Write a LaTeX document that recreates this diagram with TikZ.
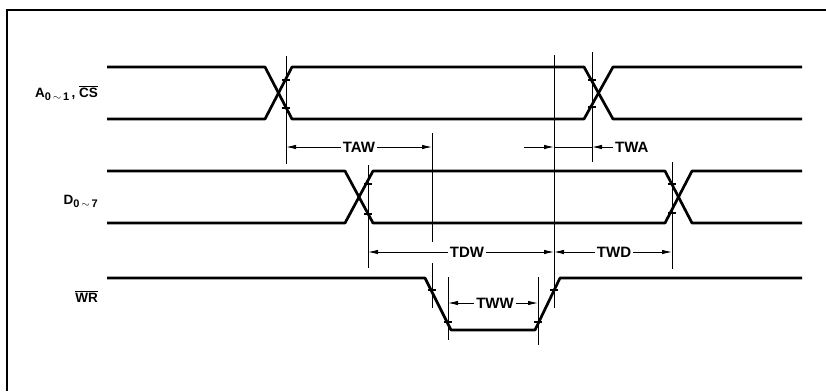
\documentclass[tikz,border=0pt]{standalone}
\usepackage{fontspec}
\setmainfont{Liberation Sans}
\usetikzlibrary{arrows.meta,positioning,calc}

\newcommand{\sigsub}[1]{\raisebox{-3.5pt}{\fontsize{11}{11}\selectfont #1}}

\begin{document}
\begin{tikzpicture}[x=1pt,y=-1pt,
  wave/.style={line width=2.7pt,line join=round},
  refl/.style={line width=0.9pt},
  tick/.style={line width=1.4pt},
  dim/.style={line width=0.9pt,-{Latex[length=10pt,width=4.5pt]}},
  dimtext/.style={fill=white,inner xsep=2pt,inner ysep=1pt,font=\fontsize{15}{17}\selectfont\bfseries},
  siglbl/.style={anchor=base east,inner sep=0pt,font=\fontsize{13.5}{16}\selectfont\bfseries}]
\useasboundingbox (0,0) rectangle (826,391);
\draw[line width=1.6pt] (7,391) -- (7,10) -- (826,10);

% signal names
\node[siglbl] (lblA) at (98,97) {A\sigsub{0\,$\sim$\,1}\,, $\overline{\mbox{CS}}$};
\node[siglbl] (lblD) at (98,204) {D\sigsub{0\,$\sim$\,7}};
\node[siglbl] (lblWR) at (98,302) {$\overline{\mbox{WR}}$};

% waveforms
\draw[wave] (107,67) -- (265,67) -- (292,119) -- (584,119) -- (613,67) -- (802,67);
\draw[wave] (107,119) -- (265,119) -- (292,67) -- (584,67) -- (613,119) -- (802,119);
\draw[wave] (107,171) -- (345,171) -- (373,223) -- (665,223) -- (692,171) -- (802,171);
\draw[wave] (107,223) -- (345,223) -- (373,171) -- (665,171) -- (692,223) -- (802,223);
\draw[wave] (107,278) -- (425,278) -- (451,330) -- (535,330) -- (560,278) -- (802,278);

% reference lines
\draw[refl] (286,56) -- (286,164);
\draw[refl] (432,133) -- (432,242);
\draw[refl] (432,263) -- (432,308);
\draw[refl] (554,55) -- (554,308);
\draw[refl] (592,52) -- (592,162);
\draw[refl] (368,165) -- (368,268);
\draw[refl] (672,162) -- (672,269);
\draw[refl] (448,277) -- (448,340);
\draw[refl] (538,277) -- (538,345);

% ticks where the lines cross the edges
\foreach \tx/\ty in {286/80,286/108,592/80,592/107,368/184,368/214,672/184,672/213,432/290,448/322,538/322,554/290}
  \draw[tick] (\tx-4,\ty) -- (\tx+4,\ty);

% dimension points
\coordinate (awS) at (286,147);
\coordinate (awE) at (432,147);
\coordinate (waS) at (524,147);
\coordinate (waM) at (554,147);
\coordinate (waE) at (592,147);
\coordinate (dwS) at (368,252);
\coordinate (dwE) at (554,252);
\coordinate (wdE) at (672,252);
\coordinate (wwS) at (448,303);
\coordinate (wwE) at (538,303);

\node[dimtext] (taw) at (359,147) {TAW};
\node[dimtext] (tdw) at (467,252) {TDW};
\node[dimtext] (twd) at (614,252) {TWD};
\node[dimtext] (tww) at (495,303) {TWW};
\node[dimtext,anchor=west] (twa) at (613,147) {TWA};

\draw[dim] (taw) -- (awS);
\draw[dim] (taw) -- (awE);
\draw[dim] (tdw) -- (dwS);
\draw[dim] (tdw) -- (dwE);
\draw[dim] (twd) -- (dwE);
\draw[dim] (twd) -- (wdE);
\draw[dim] (tww) -- (wwS);
\draw[dim] (tww) -- (wwE);
\draw[dim] (waS) -- (waM);
\draw[refl] (waM) -- (waE);
\draw[dim] (twa) -- (waE);

\end{tikzpicture}
\end{document}
